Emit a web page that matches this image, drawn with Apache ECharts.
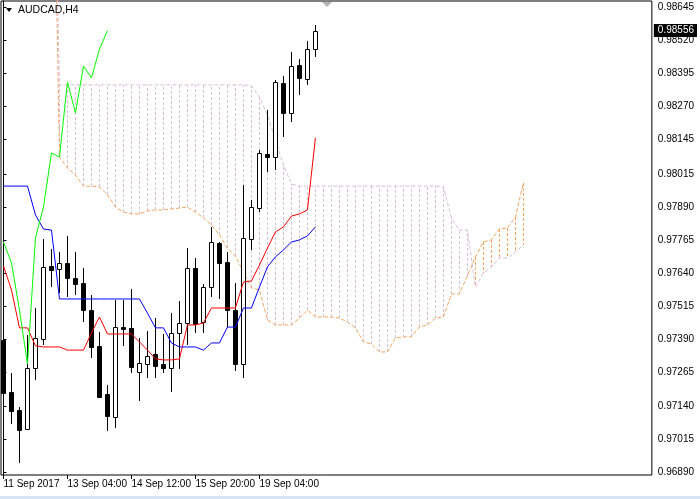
<!DOCTYPE html>
<html><head><meta charset="utf-8">
<script src="https://cdn.jsdelivr.net/npm/echarts@6/dist/echarts.min.js"></script>
<style>html,body{margin:0;padding:0;background:#fff}#c{width:700px;height:499px}</style>
</head><body><div id="c"></div>
<script>
// ---- data ----
const symbolTitle = 'AUDCAD,H4';
const xTickIdx = [0, 8, 16, 24, 32];
const xTickLabels = ['11 Sep 2017', '13 Sep 04:00', '14 Sep 12:00', '15 Sep 20:00', '19 Sep 04:00'];
const yTickVals = [0.98645,0.98520,0.98395,0.98270,0.98145,0.98015,0.97890,0.97765,0.97640,0.97515,0.97390,0.97265,0.97140,0.97015,0.96890];
const currentPrice = 0.98556;
// candles: [open, close, low, high]
const candles = [
 [0.97388,0.97188,0.97181,0.97396],
 [0.97192,0.97120,0.97071,0.97264],
 [0.97124,0.97049,0.96924,0.97135],
 [0.97052,0.97283,0.97049,0.97407],
 [0.97283,0.97396,0.97237,0.97509],
 [0.97392,0.97664,0.97369,0.97769],
 [0.97668,0.97652,0.97588,0.97732],
 [0.97656,0.97679,0.97566,0.97720],
 [0.97679,0.97622,0.97551,0.97781],
 [0.97622,0.97600,0.97558,0.97720],
 [0.97603,0.97501,0.97456,0.97660],
 [0.97501,0.97362,0.97320,0.97558],
 [0.97366,0.97173,0.97169,0.97418],
 [0.97184,0.97101,0.97045,0.97218],
 [0.97098,0.97437,0.97056,0.97539],
 [0.97437,0.97430,0.97366,0.97539],
 [0.97434,0.97286,0.97264,0.97581],
 [0.97268,0.97301,0.97158,0.97396],
 [0.97298,0.97328,0.97245,0.97422],
 [0.97335,0.97290,0.97245,0.97471],
 [0.97298,0.97283,0.97264,0.97411],
 [0.97283,0.97415,0.97192,0.97490],
 [0.97415,0.97452,0.97279,0.97535],
 [0.97452,0.97660,0.97369,0.97735],
 [0.97660,0.97449,0.97415,0.97698],
 [0.97456,0.97588,0.97415,0.97600],
 [0.97588,0.97758,0.97551,0.97815],
 [0.97754,0.97679,0.97543,0.97758],
 [0.97683,0.97501,0.97437,0.97720],
 [0.97501,0.97298,0.97271,0.97603],
 [0.97298,0.97773,0.97245,0.97973],
 [0.97769,0.97890,0.97728,0.97917],
 [0.97886,0.98094,0.97871,0.98105],
 [0.98090,0.98079,0.98022,0.98256],
 [0.98079,0.98362,0.98030,0.98370],
 [0.98358,0.98245,0.98154,0.98385],
 [0.98245,0.98422,0.98211,0.98475],
 [0.98426,0.98377,0.98313,0.98449],
 [0.98373,0.98486,0.98351,0.98517],
 [0.98486,0.98556,0.98456,0.98577]
];
const tenkan = [0.97668,0.97577,0.97434,0.97434,0.97366,0.97362,0.97362,0.97362,0.97350,0.97350,
 0.97350,0.97415,0.97475,0.97411,0.97411,0.97411,0.97411,0.97381,0.97350,0.97317,
 0.97313,0.97313,0.97317,0.97445,0.97445,0.97452,0.97509,0.97509,0.97509,0.97509,
 0.97607,0.97611,0.97671,0.97735,0.97796,0.97815,0.97856,0.97864,0.97879,0.98151];
const kijun = [0.97969,0.97969,0.97969,0.97969,0.97860,0.97807,0.97803,0.97543,0.97543,0.97543,
 0.97543,0.97543,0.97543,0.97543,0.97543,0.97543,0.97543,0.97543,0.97490,0.97434,
 0.97434,0.97377,0.97362,0.97362,0.97362,0.97350,0.97377,0.97377,0.97437,0.97437,
 0.97509,0.97509,0.97588,0.97664,0.97702,0.97728,0.97758,0.97766,0.97781,0.97815];
const chikou = [0.97758,0.97679,0.97501,0.97298,0.97773,0.97890,0.98094,0.98079,0.98362,0.98245,0.98422,0.98377,0.98486,0.98556];
const spanStart = 6;
const spanA = [0.99804,0.98079,0.98037,0.98011,0.97969,0.97969,0.97966,0.97936,0.97890,0.97871,
 0.97864,0.97864,0.97875,0.97879,0.97879,0.97883,0.97886,0.97890,0.97871,0.97849,
 0.97822,0.97785,0.97735,0.97705,0.97645,0.97585,0.97577,0.97464,0.97445,0.97445,
 0.97445,0.97471,0.97501,0.97475,0.97475,0.97475,0.97471,0.97456,0.97434,0.97381,
 0.97373,0.97343,0.97343,0.97396,0.97400,0.97400,0.97437,0.97445,0.97471,0.97475,
 0.97562,0.97562,0.97630,0.97702,0.97758,0.97766,0.97807,0.97811,0.97852,0.97981];
const spanB = [0.99804,0.98351,0.98351,0.98351,0.98351,0.98351,0.98351,0.98351,0.98351,0.98351,
 0.98351,0.98351,0.98351,0.98351,0.98351,0.98351,0.98351,0.98351,0.98351,0.98351,
 0.98351,0.98351,0.98351,0.98351,0.98351,0.98347,0.98305,0.98237,0.98143,0.98049,
 0.97977,0.97969,0.97969,0.97969,0.97969,0.97969,0.97969,0.97969,0.97969,0.97969,
 0.97969,0.97969,0.97969,0.97969,0.97969,0.97969,0.97969,0.97969,0.97969,0.97966,
 0.97849,0.97803,0.97803,0.97588,0.97641,0.97664,0.97698,0.97698,0.97720,0.97747];

// ---- chart ----
const SANDY = '#f4a460', THISTLE = '#d8bfd8';
const FONT = 'Liberation Sans';
const yMin = 0.968787, yMax = 0.986676;
const xMin = -0.311, xMax = 81.06;
const chart = echarts.init(document.getElementById('c'), null, {renderer: 'canvas'});

function clampY(y, cs) { return Math.max(cs.y, Math.min(cs.y + cs.height, y)); }

const candleData = candles.map((c, i) => [i, c[0], c[1], c[2], c[3]]);
const hatchData = spanA.map((a, j) => [spanStart + j, a, spanB[j]]);

chart.setOption({
  animation: false,
  backgroundColor: '#ffffff',
  grid: {left: 1, top: 1, right: 44, bottom: 24, show: true, borderColor: '#000', borderWidth: 1, backgroundColor: 'transparent'},
  title: {text: symbolTitle, left: 18, top: 5, padding: 0, textStyle: {fontFamily: FONT, fontSize: 10.5, fontWeight: 'normal', color: '#000'}},
  graphic: [
    {type: 'polygon', shape: {points: [[6, 8], [12, 8], [9, 12]]}, style: {fill: '#000'}, z: 100},
    {type: 'polygon', shape: {points: [[322, 2], [332, 2], [327, 7]]}, style: {fill: '#b4b4b4'}, z: 100},
    {type: 'rect', shape: {x: 0, y: 496, width: 700, height: 3}, style: {fill: '#d6e4f5'}, z: 100}
  ],
  xAxis: {
    type: 'value', min: xMin, max: xMax,
    axisLine: {show: false},
    splitLine: {show: false},
    axisTick: {show: true, customValues: xTickIdx, length: 4, lineStyle: {color: '#000'}},
    axisLabel: {customValues: xTickIdx, formatter: v => xTickLabels[xTickIdx.indexOf(Math.round(v))] || '',
      align: 'left', margin: 4, color: '#000', fontFamily: FONT, fontSize: 10}
  },
  yAxis: [{
    type: 'value', min: yMin, max: yMax, position: 'right', scale: true,
    axisLine: {show: true, lineStyle: {color: '#000'}},
    splitLine: {show: false},
    axisTick: {show: true, customValues: yTickVals, length: 3, lineStyle: {color: '#000'}},
    axisLabel: {customValues: yTickVals, formatter: v => v.toFixed(5), margin: 6, color: '#000', fontFamily: FONT, fontSize: 10}
  }, {
    type: 'value', min: yMin, max: yMax, position: 'right', scale: true,
    axisLine: {show: false}, splitLine: {show: false}, axisTick: {show: false},
    axisLabel: {customValues: [currentPrice], formatter: v => v.toFixed(5), margin: 2, color: '#fff',
      backgroundColor: '#000', padding: [2, 3, 1, 4], fontFamily: FONT, fontSize: 10},
    z: 10
  }],
  series: [
    {
      type: 'custom', name: 'cloud', z: 1, clip: true,
      data: hatchData, encode: {x: 0, y: [1, 2]},
      renderItem: (params, api) => {
        const k = api.value(0), a = api.value(1), b = api.value(2);
        const p1 = api.coord([k, a]), p2 = api.coord([k, b]);
        const cs = params.coordSys;
        const x = Math.round(p1[0]) + 0.5;
        return {type: 'line', shape: {x1: x, y1: clampY(p1[1], cs), x2: x, y2: clampY(p2[1], cs)},
          style: {stroke: a > b ? SANDY : THISTLE, lineWidth: 1, lineDash: [3, 2]}};
      }
    },
    {type: 'line', name: 'SpanA', z: 2, data: spanA.map((v, j) => [spanStart + j, v]), showSymbol: false, symbol: 'none',
      lineStyle: {color: SANDY, width: 1, type: [4, 2]}, clip: true},
    {type: 'line', name: 'SpanB', z: 2, data: spanB.map((v, j) => [spanStart + j, v]), showSymbol: false, symbol: 'none',
      lineStyle: {color: THISTLE, width: 1, type: [4, 2]}, clip: true},
    {
      type: 'custom', name: 'candles', z: 3, clip: true,
      data: candleData, encode: {x: 0, y: [1, 2, 3, 4]},
      renderItem: (params, api) => {
        const i = api.value(0), o = api.value(1), c = api.value(2), l = api.value(3), h = api.value(4);
        const po = api.coord([i, o]), pc = api.coord([i, c]), pl = api.coord([i, l]), ph = api.coord([i, h]);
        const x = Math.round(po[0]) + 0.5;
        const top = Math.round(Math.min(po[1], pc[1])) + 0.5;
        const bot = Math.round(Math.max(po[1], pc[1])) + 0.5;
        const bull = c >= o;
        return {type: 'group', children: [
          {type: 'line', shape: {x1: x, y1: Math.round(ph[1]), x2: x, y2: Math.round(pl[1])}, style: {stroke: '#000', lineWidth: 1}},
          {type: 'rect', shape: {x: x - 2, y: top, width: 4, height: Math.max(bot - top, 0.5)},
            style: {fill: bull ? '#fff' : '#000', stroke: '#000', lineWidth: 1}}
        ]};
      }
    },
    {type: 'line', name: 'Tenkan', z: 4, data: tenkan.map((v, i) => [i, v]), showSymbol: false, symbol: 'none',
      lineStyle: {color: '#ff0000', width: 1}, clip: true,
      markLine: {silent: true, symbol: 'none', label: {show: false}, lineStyle: {color: '#c0c0c0', type: 'solid', width: 1},
        data: [{yAxis: currentPrice}]}},
    {type: 'line', name: 'Kijun', z: 4, data: kijun.map((v, i) => [i, v]), showSymbol: false, symbol: 'none',
      lineStyle: {color: '#0000ff', width: 1}, clip: true},
    {type: 'line', name: 'Chikou', z: 4, data: chikou.map((v, i) => [i, v]), showSymbol: false, symbol: 'none',
      lineStyle: {color: '#00ff00', width: 1}, clip: true}
  ]
});
</script>
</body></html>
